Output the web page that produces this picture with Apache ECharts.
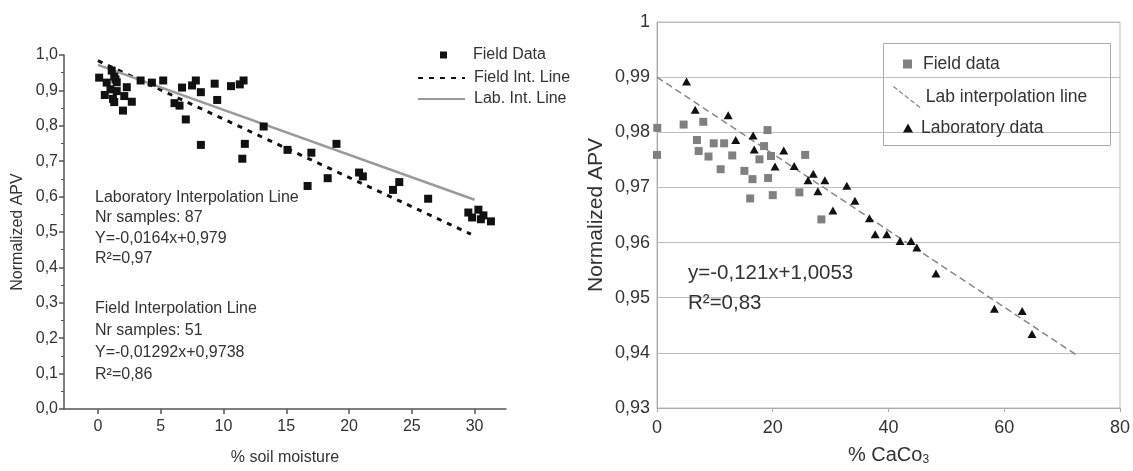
<!DOCTYPE html>
<html><head><meta charset="utf-8">
<script src="https://cdn.jsdelivr.net/npm/echarts@6/dist/echarts.min.js"></script>
<style>html,body{margin:0;padding:0;background:#fff}#c{width:1133px;height:471px}</style>
</head><body><div id="c"></div>
<script>
// ---------- Left chart data ----------
const moistureTicks = [0, 5, 10, 15, 20, 25, 30];
const fieldMoisture = [0.1,0.55,0.7,1.0,1.1,1.2,1.3,1.3,1.4,1.5,1.5,2.0,2.1,2.3,2.7,3.4,4.3,5.2,6.1,6.5,6.7,7.0,7.5,7.8,8.2,8.2,9.3,9.5,10.6,11.3,11.6,11.5,11.7,13.2,15.1,16.7,17.0,18.3,19.0,20.8,21.1,23.5,24.0,26.3,29.5,29.8,30.3,30.5,30.7,31.3];
const fieldAPV = [0.936,0.887,0.922,0.903,0.956,0.876,0.867,0.939,0.931,0.898,0.923,0.843,0.884,0.909,0.868,0.928,0.922,0.928,0.864,0.857,0.908,0.818,0.914,0.928,0.895,0.746,0.919,0.873,0.912,0.917,0.928,0.707,0.749,0.798,0.732,0.630,0.724,0.652,0.749,0.668,0.657,0.619,0.641,0.594,0.555,0.541,0.563,0.536,0.547,0.530];
const fieldLineX = [0, 29.7];
const fieldLineY = [0.984, 0.494];
const labLineX = [0, 30];
const labLineY = [0.972, 0.591];

// ---------- Right chart data ----------
const cacoFieldX = [0.05,0,4.6,8.0,6.9,7.2,8.9,9.8,11.6,13.0,11.0,15.1,16.5,16.1,19.1,18.5,17.7,19.7,19.2,20.0,24.6,25.6,28.4];
const cacoFieldY = [0.9808,0.9759,0.9814,0.9819,0.9786,0.9766,0.9756,0.9780,0.9780,0.9758,0.9733,0.9730,0.9715,0.9680,0.9804,0.9775,0.9751,0.9757,0.9717,0.9686,0.9691,0.9759,0.9642];
const cacoLabX = [5.1,6.6,12.3,13.6,16.6,16.8,20.4,21.9,23.7,26.1,27.0,27.8,29.0,30.4,32.8,34.2,36.7,37.7,39.7,42.0,43.9,44.9,48.2,58.3,63.1,64.8];
const cacoLabY = [0.9892,0.9841,0.9831,0.9786,0.9794,0.9769,0.9738,0.9767,0.9739,0.9713,0.9725,0.9693,0.9713,0.9658,0.9703,0.9676,0.9644,0.9615,0.9615,0.9603,0.9603,0.9591,0.9544,0.9480,0.9476,0.9434];
const cacoLineX = [0, 72.5];
const cacoLineY = [0.99, 0.9396];

const zip = (a, b) => a.map((v, i) => [v, b[i]]);
const FONT = "'Liberation Sans', Arial, sans-serif";
const TXT = '#333';

function dashDiag(w, h, dash, gap, th) {
  const L = Math.hypot(w, h), ux = w / L, uy = h / L, nx = -uy * th / 2, ny = ux * th / 2;
  let d = '';
  for (let t = 0; t < L; t += dash + gap) {
    const t1 = Math.min(t + dash, L);
    const ax = ux * t, ay = uy * t, bx = ux * t1, by = uy * t1;
    d += `M${(ax+nx).toFixed(2)},${(ay+ny).toFixed(2)}L${(bx+nx).toFixed(2)},${(by+ny).toFixed(2)}L${(bx-nx).toFixed(2)},${(by-ny).toFixed(2)}L${(ax-nx).toFixed(2)},${(ay-ny).toFixed(2)}Z`;
  }
  return 'path://' + d;
}

const chart = echarts.init(document.getElementById('c'), null, { renderer: 'canvas' });
chart.setOption({
  animation: false,
  textStyle: { fontFamily: FONT },
  grid: [
    { left: 64, top: 55, right: 627, bottom: 54 },
    { left: 657, top: 22, right: 13, bottom: 61, show: true, borderColor: '#bdbdbd', borderWidth: 1 }
  ],
  xAxis: [
    {
      gridIndex: 0, type: 'value', min: -2.7, max: 32.5,
      name: '% soil moisture', nameLocation: 'middle', nameGap: 41,
      nameTextStyle: { fontSize: 16, color: TXT, fontFamily: FONT },
      axisLine: { onZero: false, lineStyle: { color: '#555', width: 1.5 } },
      axisTick: { show: true, length: 5, customValues: moistureTicks, lineStyle: { color: '#555', width: 1.5 } },
      axisLabel: { customValues: moistureTicks, fontSize: 16, color: TXT, margin: 10, fontFamily: FONT },
      splitLine: { show: false }
    },
    {
      gridIndex: 1, type: 'value', min: 0, max: 80, interval: 20,
      name: '% CaCo{sub|3}', nameLocation: 'middle', nameGap: 36,
      nameTextStyle: { fontSize: 20, color: TXT, fontFamily: FONT,
        rich: { sub: { fontSize: 12, padding: [10, 0, 0, 0], color: TXT, fontFamily: FONT } } },
      axisLine: { onZero: false, lineStyle: { color: '#aaa', width: 1 } },
      axisTick: { show: true, length: 4, lineStyle: { color: '#aaa' } },
      axisLabel: { fontSize: 18, color: TXT, margin: 11, fontFamily: FONT },
      splitLine: { show: false }
    }
  ],
  yAxis: [
    {
      gridIndex: 0, type: 'value', min: 0, max: 1, interval: 0.1,
      name: 'Normalized APV', nameLocation: 'middle', nameGap: 38, nameRotate: 90,
      nameTextStyle: { fontSize: 16, color: TXT, fontFamily: FONT },
      axisLine: { show: true, onZero: false, lineStyle: { color: '#555', width: 1.5 } },
      axisTick: { show: true, length: 5, lineStyle: { color: '#555', width: 1.5 } },
      minorTick: { show: true, splitNumber: 2, length: 3, lineStyle: { color: '#555', width: 1 } },
      axisLabel: { fontSize: 16, color: TXT, margin: 6, fontFamily: FONT,
        formatter: v => v.toFixed(1).replace('.', ',') },
      splitLine: { show: false }
    },
    {
      gridIndex: 1, type: 'value', min: 0.93, max: 1, interval: 0.01,
      name: 'Normalized APV', nameLocation: 'middle', nameGap: 50, nameRotate: 90,
      nameTextStyle: { fontSize: 21, color: TXT, fontFamily: FONT },
      axisLine: { show: true, onZero: false, lineStyle: { color: '#aaa', width: 1 } },
      axisTick: { show: false },
      axisLabel: { fontSize: 18, color: TXT, margin: 7, fontFamily: FONT,
        formatter: v => (Math.abs(v - 1) < 1e-9 ? '1' : v.toFixed(2).replace('.', ',')) },
      splitLine: { show: true, lineStyle: { color: '#bdbdbd', width: 1 } }
    }
  ],
  legend: [
    { selectedMode: false, data: ['Field Data'], left: 440, top: 47, padding: 0, itemWidth: 7, itemHeight: 7,
      textStyle: { fontSize: 16, color: TXT, fontFamily: FONT, padding: [0, 0, 0, 21] } },
    { selectedMode: false, data: ['Field Int. Line', 'Lab. Int. Line'], orient: 'vertical', left: 417, top: 70,
      padding: 0, itemWidth: 47, itemHeight: 14, itemGap: 5,
      itemStyle: { opacity: 0, color: 'rgba(0,0,0,0)', borderWidth: 0 },
      textStyle: { fontSize: 16, color: TXT, fontFamily: FONT, padding: [0, 0, 0, 4] } },
    { selectedMode: false, data: ['Field data'], left: 903, top: 55, padding: 0, itemWidth: 9, itemHeight: 9,
      textStyle: { fontSize: 17.5, color: TXT, fontFamily: FONT, padding: [0, 0, 0, 6] } },
    { selectedMode: false, data: [{ name: 'Lab interpolation line', icon: dashDiag(28, 22, 5, 2.5, 1.3) }],
      left: 893, top: 86, padding: 0, itemWidth: 28, itemHeight: 22,
      textStyle: { fontSize: 17.5, color: TXT, fontFamily: FONT, padding: [5, 0, 0, 0] } },
    { selectedMode: false, data: ['Laboratory data'], left: 903, top: 119, padding: 0, itemWidth: 10, itemHeight: 9,
      textStyle: { fontSize: 17.5, color: TXT, fontFamily: FONT, padding: [0, 0, 0, 3] } }
  ],
  graphic: [
    { type: 'rect', left: 881, top: 41, z: 100, silent: true,
      shape: { width: 227, height: 102 }, style: { fill: 'none', stroke: '#aaa', lineWidth: 1 } },
    { type: 'text', left: 95, top: 187, z: 100, style: {
        text: 'Laboratory Interpolation Line\nNr samples: 87\nY=-0,0164x+0,979\nR²=0,97',
        font: "16px 'Liberation Sans', Arial, sans-serif", fill: TXT, lineHeight: 20.5 } },
    { type: 'text', left: 95, top: 297, z: 100, style: {
        text: 'Field Interpolation Line\nNr samples: 51\nY=-0,01292x+0,9738\nR²=0,86',
        font: "16px 'Liberation Sans', Arial, sans-serif", fill: TXT, lineHeight: 22.3 } },
    { type: 'text', left: 688, top: 258, z: 100, style: {
        text: 'y=-0,121x+1,0053\nR²=0,83',
        font: "20.5px 'Liberation Sans', Arial, sans-serif", fill: TXT, lineHeight: 30 } }
  ],
  series: [
    { name: 'Field Int. Line', type: 'line', xAxisIndex: 0, yAxisIndex: 0, symbol: 'none',
      data: zip(fieldLineX, fieldLineY), color: '#111',
      lineStyle: { color: '#111', width: 3, type: [5, 6] }, z: 3 },
    { name: 'Lab. Int. Line', type: 'line', xAxisIndex: 0, yAxisIndex: 0, symbol: 'none',
      data: zip(labLineX, labLineY), color: '#9a9a9a',
      lineStyle: { color: '#9a9a9a', width: 2.5 }, z: 3 },
    { name: 'Field Data', type: 'scatter', xAxisIndex: 0, yAxisIndex: 0, symbol: 'rect', symbolSize: 8,
      data: zip(fieldMoisture, fieldAPV), itemStyle: { color: '#111', opacity: 1 }, z: 4 },
    { name: 'Lab interpolation line', type: 'line', xAxisIndex: 1, yAxisIndex: 1, symbol: 'none',
      data: zip(cacoLineX, cacoLineY), color: '#888',
      lineStyle: { color: '#888', width: 1.5, type: [7, 4] }, z: 3 },
    { name: 'Field data', type: 'scatter', xAxisIndex: 1, yAxisIndex: 1, symbol: 'rect', symbolSize: 8,
      data: zip(cacoFieldX, cacoFieldY), itemStyle: { color: '#808080', opacity: 1 }, z: 4 },
    { name: 'Laboratory data', type: 'scatter', xAxisIndex: 1, yAxisIndex: 1, symbol: 'triangle', symbolSize: [9, 8],
      data: zip(cacoLabX, cacoLabY), itemStyle: { color: '#111', opacity: 1 }, z: 4 }
  ]
});
</script>
</body></html>
